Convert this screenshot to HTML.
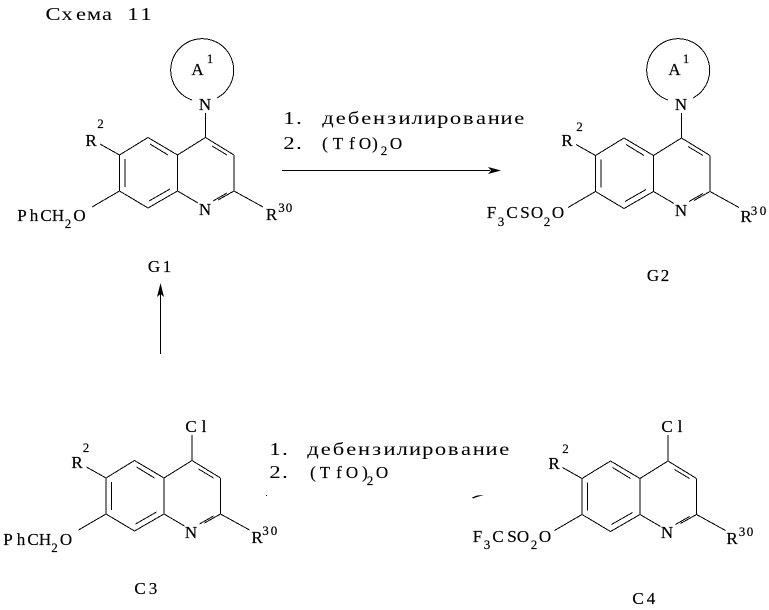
<!DOCTYPE html>
<html><head><meta charset="utf-8"><style>
html,body{margin:0;padding:0;background:#fff}
svg{display:block}
text{font-family:"Liberation Serif",serif;fill:#000;text-anchor:middle;stroke:#000;stroke-width:.2}
.m{font-size:17px}
.c{font-size:18px;stroke-width:.05}
.s{font-size:13px}
.b line,.b path{stroke:#000;stroke-width:1;fill:none}
</style></head><body>
<svg width="769" height="610" viewBox="0 0 769 610" xmlns="http://www.w3.org/2000/svg">
<defs>
<g id="q" class="b" shape-rendering="crispEdges">
<line x1="205.5" y1="137.5" x2="234" y2="155"/>
<line x1="212" y1="146" x2="227" y2="155"/>
<line x1="234" y1="155" x2="234" y2="191"/>
<line x1="234" y1="191" x2="218" y2="200"/>
<line x1="227" y1="193" x2="213" y2="201"/>
<line x1="177.5" y1="191" x2="198" y2="203"/>
<line x1="177.5" y1="155" x2="177.5" y2="191"/>
<line x1="177.5" y1="155" x2="205.5" y2="137.5"/>
<line x1="177.5" y1="155" x2="148" y2="137.5"/>
<line x1="168" y1="155" x2="150" y2="144"/>
<line x1="148" y1="137.5" x2="119.5" y2="155"/>
<line x1="119.5" y1="155" x2="119.5" y2="191"/>
<line x1="125" y1="159" x2="125" y2="187"/>
<line x1="119.5" y1="191" x2="148" y2="208"/>
<line x1="148" y1="208" x2="177.5" y2="191"/>
<line x1="149" y1="201" x2="170" y2="189"/>
<line x1="119.5" y1="155" x2="100" y2="144"/>
<line x1="119.5" y1="191" x2="92" y2="207"/>
<line x1="234" y1="191" x2="263" y2="207"/>
</g>
</defs>

<use href="#q"/>
<use href="#q" transform="translate(476 0.5)"/>
<use href="#q" transform="translate(-13.5 323)"/>
<use href="#q" transform="translate(462.5 323.5)"/>

<g class="b" shape-rendering="crispEdges">
<line x1="205.5" y1="113" x2="205.5" y2="137.5"/>
<path d="M192 100 A31.5 31.5 0 1 1 217 98"/>
<line x1="681.5" y1="113" x2="681.5" y2="138"/>
<path d="M668 100 A31.5 31.5 0 1 1 693 98"/>
<line x1="192" y1="435" x2="192" y2="460.5"/>
<line x1="668" y1="435" x2="668" y2="461"/>
</g>

<line x1="282" y1="170.5" x2="490" y2="170.5" stroke="#000" stroke-width="1" shape-rendering="crispEdges"/>
<path d="M488 167 L501 170.5 L488 174 L491 170.5 Z" fill="#000"/>
<line x1="160.5" y1="354" x2="160.5" y2="290" stroke="#000" stroke-width="1" shape-rendering="crispEdges"/>
<path d="M160.5 283 L164 297 L160.5 294 L157 297 Z" fill="#000"/>
<path d="M472 497.5 L477 495.5 L484 495 L477 497 L473 498.5 Z" fill="#000"/>
<rect x="266" y="495" width="1" height="1" fill="#000"/>

<text class="c" transform="translate(53 20) scale(1.25 1)" x="0 11.2 22.4 32.8 43.2 54 64 74.4" y="0">Схема 11</text>

<!-- G1 -->
<text class="m" x="197.5" y="75">A</text><text class="s" x="210" y="63">1</text>
<text class="m" x="205" y="110">N</text>
<text class="m" x="91" y="146">R</text><text class="s" x="100.5" y="128">2</text>
<text class="m" x="22 34 46 58" y="221">PhCH</text><text class="s" x="68" y="228">2</text><text class="m" x="79.5" y="221">O</text>
<text class="m" x="205" y="215">N</text>
<text class="m" x="271.5" y="220">R</text><text class="s" x="281.5 289" y="212">30</text>
<text class="m" x="154 167" y="272">G1</text>

<!-- G2 -->
<text class="m" x="674.5" y="75">A</text><text class="s" x="686" y="63">1</text>
<text class="m" x="681" y="110">N</text>
<text class="m" x="567" y="146">R</text><text class="s" x="579.5" y="131">2</text>
<text class="m" x="491.5" y="218">F</text><text class="s" x="501" y="226">3</text><text class="m" x="512 525 537" y="218">CSO</text><text class="s" x="547" y="226">2</text><text class="m" x="558" y="218">O</text>
<text class="m" x="681" y="216">N</text>
<text class="m" x="746" y="222">R</text><text class="s" x="754 763" y="215">30</text>
<text class="m" x="653 665" y="281">G2</text>

<!-- C3 -->
<text class="m" x="191 204" y="432">Cl</text>
<text class="m" x="77" y="468">R</text><text class="s" x="86" y="452">2</text>
<text class="m" x="8 21 33 45" y="545">PhCH</text><text class="s" x="54.5" y="552">2</text><text class="m" x="66" y="545">O</text>
<text class="m" x="191" y="538">N</text>
<text class="m" x="257" y="543">R</text><text class="s" x="265.5 274" y="535">30</text>
<text class="m" x="140 153" y="594">C3</text>

<!-- C4 -->
<text class="m" x="667 680" y="432">Cl</text>
<text class="m" x="554" y="469">R</text><text class="s" x="565.5" y="453">2</text>
<text class="m" x="477.5" y="542">F</text><text class="s" x="487" y="549">3</text><text class="m" x="498 512 523" y="542">CSO</text><text class="s" x="534" y="549">2</text><text class="m" x="545" y="542">O</text>
<text class="m" x="667" y="538">N</text>
<text class="m" x="732" y="544">R</text><text class="s" x="742 750" y="536">30</text>
<text class="m" x="638 651" y="604">C4</text>

<!-- top reagents -->
<text class="c" transform="translate(289 124) scale(1.25 1)" x="0 8" y="0">1.</text>
<text class="c" transform="translate(328 124) scale(1.25 1)" x="0 10.2 20.4 30.6 40.8 51 61.2 71.4 81.6 91.8 102 112.2 122.4 132.6 142.8 153" y="0">дебензилирование</text>
<text class="c" transform="translate(289 149) scale(1.25 1)" x="0 8" y="0">2.</text>
<text class="m" x="325 338 352 365 375" y="149">(TfO)</text><text class="s" x="384" y="155">2</text><text class="m" x="396" y="149">O</text>

<!-- bottom reagents -->
<text class="c" transform="translate(275 455) scale(1.25 1)" x="0 8" y="0">1.</text>
<text class="c" transform="translate(313 455) scale(1.25 1)" x="0 10.2 20.4 30.6 40.8 51 61.2 71.4 81.6 91.8 102 112.2 122.4 132.6 142.8 153" y="0">дебензилирование</text>
<text class="c" transform="translate(275 478) scale(1.25 1)" x="0 8" y="0">2.</text>
<text class="m" x="313 325 339 352 365" y="478">(TfO)</text><text class="s" x="370" y="485">2</text><text class="m" x="382" y="478">O</text>
</svg>
</body></html>
